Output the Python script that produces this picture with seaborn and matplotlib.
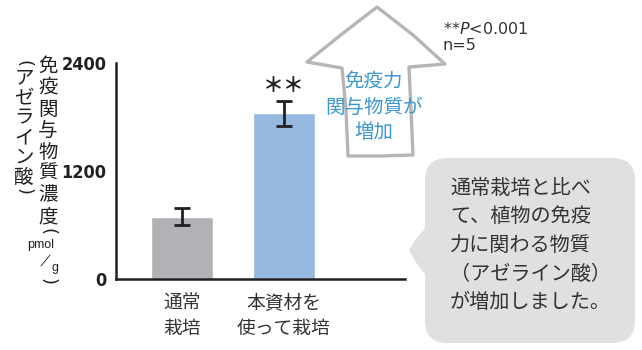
import matplotlib
matplotlib.use("Agg")
import matplotlib.pyplot as plt
import seaborn as sns
import pandas as pd
from matplotlib.patches import Polygon, FancyBboxPatch
from matplotlib.lines import Line2D
from matplotlib import font_manager

# ---- data ----
categories = ["通常\n栽培", "本資材を\n使って栽培"]
values = [690, 1840]
errors = [95, 140]
bar_colors = ["#b1b2b5", "#96b9e0"]
yticks = [0, 1200, 2400]
ylabel_main = ["免", "疫", "関", "与", "物", "質", "濃", "度"]
ylabel_sub = ["ア", "ゼ", "ラ", "イ", "ン", "酸"]
arrow_text = "免疫力\n関与物質が\n増加"
bubble_lines = ["通常栽培と比べ", "て、植物の免疫", "力に関わる物質", "（アゼライン酸）", "が増加しました。"]

sns.set_theme(style="white")
plt.rcParams["font.family"] = ["Noto Sans CJK JP", "DejaVu Sans"]

W, H = 642, 350
fig = plt.figure(figsize=(W / 100, H / 100), dpi=100)
fig.patch.set_facecolor("white")


def fx(x):
    return x / W


def fy(y):
    return 1 - y / H


ax = fig.add_axes([fx(116), fy(279), (405 - 116) / W, (279 - 63) / H])
df = pd.DataFrame({"cat": categories, "val": values})
sns.barplot(data=df, x="cat", y="val", hue="cat", palette=bar_colors, width=0.61,
            errorbar=None, legend=False, ax=ax, saturation=1)
ax.errorbar(range(len(values)), values, yerr=errors, fmt="none", ecolor="#231f20",
            elinewidth=2.0, capsize=6, capthick=2.0)
ax.set_xlim(-0.65, 2.19)
ax.set_ylim(0, 2400)
ax.set_yticks(yticks)
ax.set_xlabel("")
ax.set_ylabel("")
for s in ["top", "right"]:
    ax.spines[s].set_visible(False)
for s in ["left", "bottom"]:
    ax.spines[s].set_color("#231f20")
    ax.spines[s].set_linewidth(1.8)
ax.tick_params(axis="y", direction="out", length=5, width=1.5, color="#231f20", pad=2)
ax.tick_params(axis="x", length=0, pad=10)

# find a condensed bold font for tick numbers if available
narrow_path = None
for f in font_manager.fontManager.ttflist:
    nm = f.name.lower()
    if ("narrow" in nm or "condensed" in nm or str(f.stretch) in ("condensed", "semi-condensed", "575", "500")):
        if f.weight in ("bold", 700) or "bold" in str(f.fname).lower():
            narrow_path = f.fname
            break
for lab in ax.get_yticklabels():
    if narrow_path:
        lab.set_fontproperties(font_manager.FontProperties(fname=narrow_path, size=13))
    else:
        lab.set_fontfamily("Liberation Sans")
        lab.set_fontweight("bold")
        lab.set_fontsize(11.5)
    lab.set_color("#231f20")
for lab in ax.get_xticklabels():
    lab.set_fontsize(13.5)
    lab.set_color("#333333")
    lab.set_linespacing(1.25)

# significance mark
ax.text(1, values[1] + errors[1] + 170, "＊＊", ha="center", va="center",
        fontsize=15, color="#231f20", fontweight="bold")

# vertical y label
paren_kw = dict(rotation=-90, rotation_mode="default", ha="center", va="center",
                fontsize=13, color="#231f20", family="DejaVu Sans")
for i, ch in enumerate(ylabel_main):
    fig.text(fx(48), fy(66 + 21.5 * i), ch, ha="center", va="center",
             fontsize=14, color="#231f20")
fig.text(fx(48), fy(231), "(", **paren_kw)
fig.text(fx(41), fy(245), "pmol", ha="center", va="center", fontsize=9,
         color="#231f20", family="Liberation Sans")
fig.add_artist(Line2D([fx(41), fx(50)], [fy(266), fy(255)], transform=fig.transFigure,
                      color="#231f20", linewidth=0.6))
fig.text(fx(55), fy(268), "g", ha="center", va="center", fontsize=9,
         color="#231f20", family="Liberation Sans")
fig.text(fx(48), fy(281), ")", **paren_kw)

fig.text(fx(24), fy(64), "(", **paren_kw)
for i, ch in enumerate(ylabel_sub):
    fig.text(fx(24), fy(78 + 19.8 * i), ch, ha="center", va="center",
             fontsize=14, color="#231f20")
fig.text(fx(24), fy(192), ")", **paren_kw)

# hand-drawn arrow
arrow_px = [(377, 7), (413, 35), (445, 64), (409, 67), (411, 110), (413, 155),
            (380, 156), (348, 156), (346, 110), (342, 68), (307, 62), (342, 34)]
arrow = Polygon([(fx(x), fy(y)) for x, y in arrow_px], closed=True,
                transform=fig.transFigure, facecolor="white", edgecolor="#b9b5b5",
                linewidth=2.4, joinstyle="round")
fig.add_artist(arrow)
fig.text(fx(374), fy(107), arrow_text, ha="center", va="center", fontsize=14,
         color="#3b96d2", linespacing=1.3)

# stats note
fig.text(fx(443), fy(29), r"**$\it{P}$<0.001", ha="left", va="center",
         fontsize=11.5, color="#333333", family="DejaVu Sans")
fig.text(fx(443), fy(45), "n=5", ha="left", va="center",
         fontsize=11.5, color="#333333", family="DejaVu Sans")

# speech bubble
bub_col = "#e2dfdf"
bubble = FancyBboxPatch((fx(425), fy(343)), (635 - 425) / W, (343 - 158) / H,
                        boxstyle="round,pad=0,rounding_size=0.035",
                        transform=fig.transFigure, facecolor=bub_col,
                        edgecolor="none", mutation_aspect=W / H)
fig.add_artist(bubble)
tail = Polygon([(fx(427), fy(226)), (fx(415), fy(240)), (fx(409), fy(250)),
                (fx(415), fy(261)), (fx(427), fy(277))],
               closed=True, transform=fig.transFigure, facecolor=bub_col,
               edgecolor="none")
fig.add_artist(tail)
for i, line in enumerate(bubble_lines):
    fig.text(fx(450), fy(188 + 28.7 * i), line, ha="left", va="center",
             fontsize=14.5, color="#333333")

fig.savefig("out.png", dpi=100)
